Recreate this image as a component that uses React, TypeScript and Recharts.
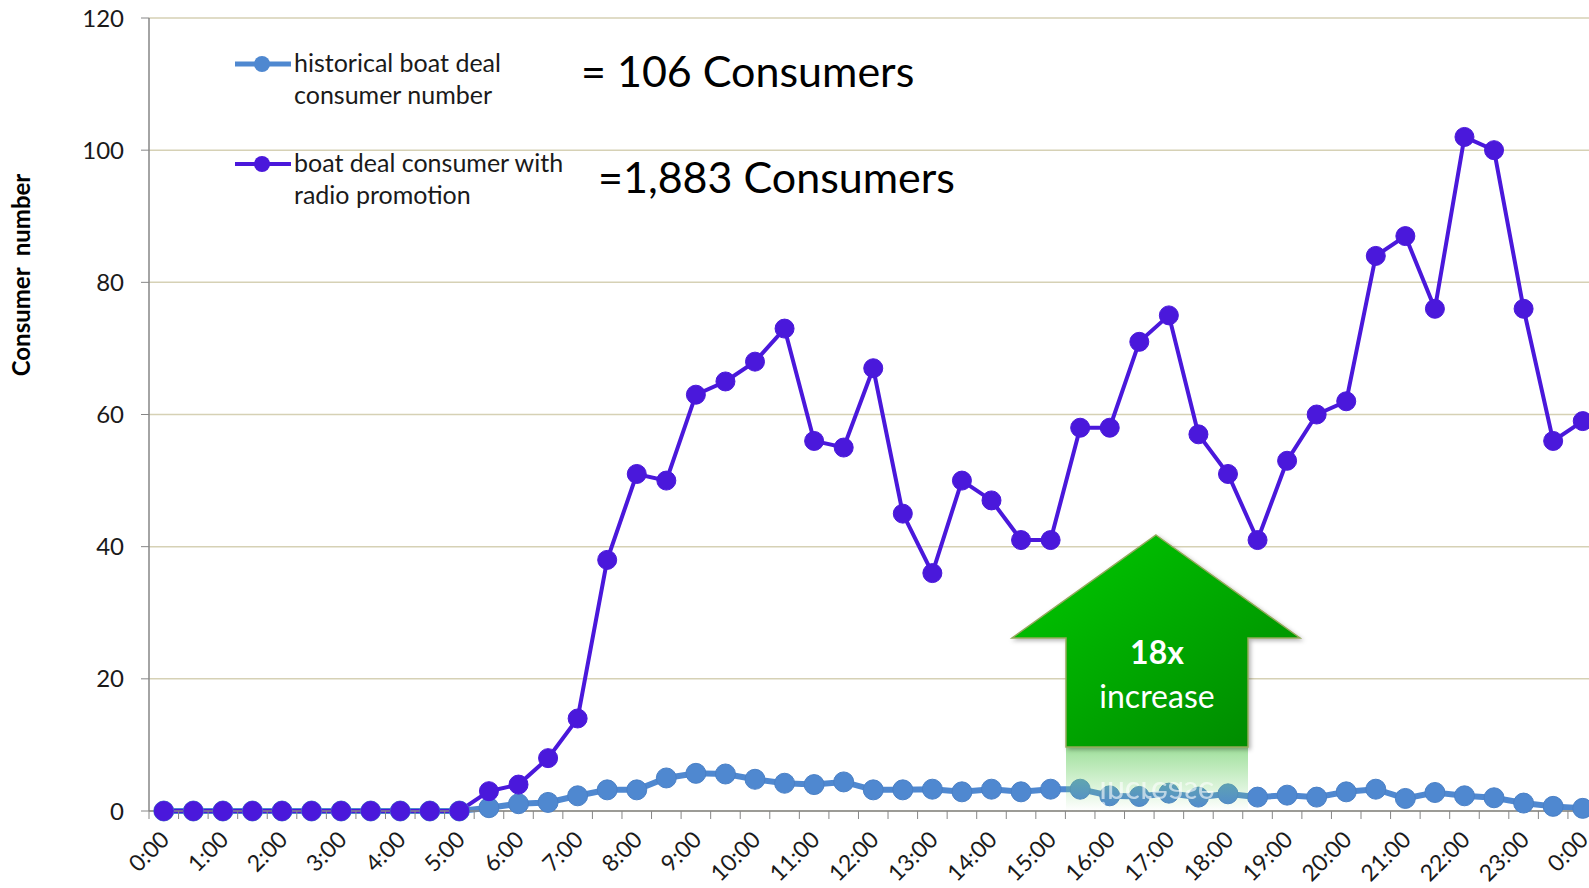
import { ComposedChart, Line, XAxis, YAxis, CartesianGrid } from 'recharts'

// half-hour slots, 0:00 to the next 0:00
const slots = [
  '0:00', '0:30', '1:00', '1:30', '2:00', '2:30', '3:00', '3:30', '4:00', '4:30',
  '5:00', '5:30', '6:00', '6:30', '7:00', '7:30', '8:00', '8:30', '9:00', '9:30',
  '10:00', '10:30', '11:00', '11:30', '12:00', '12:30', '13:00', '13:30', '14:00', '14:30',
  '15:00', '15:30', '16:00', '16:30', '17:00', '17:30', '18:00', '18:30', '19:00', '19:30',
  '20:00', '20:30', '21:00', '21:30', '22:00', '22:30', '23:00', '23:30', '0:00',
]

const historical = [
  0, 0, 0, 0, 0, 0, 0, 0, 0, 0,
  0, 0.5, 1.1, 1.3, 2.3, 3.2, 3.2, 5.0, 5.7, 5.6,
  4.8, 4.2, 4.0, 4.4, 3.2, 3.2, 3.3, 2.9, 3.3, 2.9,
  3.3, 3.3, 2.3, 2.2, 2.7, 2.1, 2.6, 2.1, 2.4, 2.1,
  2.9, 3.3, 1.9, 2.8, 2.3, 2.0, 1.2, 0.7, 0.4,
]

const withRadio = [
  0, 0, 0, 0, 0, 0, 0, 0, 0, 0,
  0, 3, 4, 8, 14, 38, 51, 50, 63, 65,
  68, 73, 56, 55, 67, 45, 36, 50, 47, 41,
  41, 58, 58, 71, 75, 57, 51, 41, 53, 60,
  62, 84, 87, 76, 102, 100, 76, 56, 59,
]

const yTicks = [0, 20, 40, 60, 80, 100, 120]

// slot index is the category key, since "0:00" shows up twice
const data = slots.map((slot, i) => ({ idx: i, slot, historical: historical[i], radio: withRadio[i] }))

const FONT = 'Lato, "Open Sans", sans-serif'
const BLUE = '#4F88D0'
const PURPLE = '#4A18DB'
const AXIS = '#868686'

const CHART_W = 1620
const CHART_H = 888
const Y_W = 149
const M_TOP = 18
const M_RIGHT = 22.5
const X_H = 77
const BAND = (CHART_W - Y_W - M_RIGHT) / slots.length

function XTick(props: any) {
  const { x, y, payload } = props
  const i = Number(payload.value)
  return (
    <g transform={`translate(${x},${y})`}>
      <line x1={-BAND / 2} y1={0} x2={-BAND / 2} y2={8} stroke={AXIS} strokeWidth={1} />
      {i % 2 === 0 && (
        <text
          x={0}
          y={0}
          transform="translate(7,30) rotate(-45)"
          textAnchor="end"
          fontSize={23}
          fontFamily={FONT}
          fill="#1a1a1a"
        >
          {slots[i]}
        </text>
      )}
    </g>
  )
}

function Arrow() {
  return (
    <g>
      <defs>
        <linearGradient id="arrowFill" x1="0" y1="0" x2="1" y2="1">
          <stop offset="0%" stopColor="#00CC00" />
          <stop offset="100%" stopColor="#008500" />
        </linearGradient>
        <linearGradient id="reflect" x1="0" y1="0" x2="0" y2="1">
          <stop offset="0%" stopColor="#7FD67A" stopOpacity={0.75} />
          <stop offset="100%" stopColor="#7FD67A" stopOpacity={0} />
        </linearGradient>
        <filter id="shadow" x="-10%" y="-10%" width="130%" height="130%">
          <feDropShadow dx="2" dy="2" stdDeviation="2" floodColor="#000" floodOpacity="0.3" />
        </filter>
      </defs>
      <rect x={1066} y={747} width={182} height={64} fill="url(#reflect)" />
      <text
        x={1157}
        y={-782}
        transform="scale(1,-1)"
        textAnchor="middle"
        fontSize={32}
        fontFamily={FONT}
        fill="#ffffff"
        opacity={0.6}
      >
        increase
      </text>
      <polygon
        points="1156,535 1300,638 1248,638 1248,747 1066,747 1066,638 1012,638"
        fill="url(#arrowFill)"
        stroke="#93A95A"
        strokeWidth={1.5}
        filter="url(#shadow)"
      />
      <text x={1157} y={664} textAnchor="middle" fontSize={32} fontWeight={700} fontFamily={FONT} fill="#ffffff">
        18x
      </text>
      <text x={1157} y={708} textAnchor="middle" fontSize={32} fontFamily={FONT} fill="#ffffff">
        increase
      </text>
    </g>
  )
}

function Overlay() {
  return (
    <svg width={1589} height={888} style={{ position: 'absolute', left: 0, top: 0, pointerEvents: 'none' }}>
      <text
        transform="translate(30,275) rotate(-90)"
        textAnchor="middle"
        fontSize={24}
        fontWeight={700}
        fontFamily={FONT}
        fill="#000"
        style={{ whiteSpace: 'pre' }}
      >
        Consumer  number
      </text>

      <line x1={235} y1={64} x2={291} y2={64} stroke={BLUE} strokeWidth={5} />
      <circle cx={262} cy={64} r={8} fill={BLUE} />
      <text x={294} y={72} fontSize={25} fontFamily={FONT} fill="#1a1a1a">historical boat deal</text>
      <text x={294} y={104} fontSize={25} fontFamily={FONT} fill="#1a1a1a">consumer number</text>

      <line x1={235} y1={164} x2={291} y2={164} stroke={PURPLE} strokeWidth={4} />
      <circle cx={262} cy={164} r={8} fill={PURPLE} />
      <text x={294} y={172} fontSize={25} fontFamily={FONT} fill="#1a1a1a">boat deal consumer with</text>
      <text x={294} y={204} fontSize={25} fontFamily={FONT} fill="#1a1a1a">radio promotion</text>

      <text x={581} y={87} fontSize={43} fontFamily={FONT} fill="#000">= 106 Consumers</text>
      <text x={598} y={193} fontSize={43} fontFamily={FONT} fill="#000">=1,883 Consumers</text>

      <Arrow />
    </svg>
  )
}

export default function App() {
  return (
    <div style={{ position: 'fixed', left: 0, top: 0, width: 1589, height: 888, overflow: 'hidden', background: '#fff' }}>
      <ComposedChart
        width={CHART_W}
        height={CHART_H}
        data={data}
        margin={{ top: M_TOP, right: M_RIGHT, bottom: 0, left: 0 }}
      >
        <CartesianGrid horizontal vertical={false} stroke="#D6D1B5" strokeWidth={1.5} />
        <XAxis
          dataKey="idx"
          type="category"
          interval={0}
          height={X_H}
          padding={{ left: BAND / 2, right: BAND / 2 }}
          tickSize={0}
          tickMargin={0}
          tick={<XTick />}
          axisLine={{ stroke: AXIS, strokeWidth: 1.5 }}
        />
        <YAxis
          width={Y_W}
          domain={[0, 120]}
          ticks={yTicks}
          tickSize={8}
          tickMargin={17}
          tick={{ fontSize: 24, fontFamily: FONT, fill: '#1a1a1a' }}
          axisLine={{ stroke: AXIS, strokeWidth: 1.5 }}
          tickLine={{ stroke: AXIS }}
        />
        <Line
          dataKey="historical"
          stroke={BLUE}
          strokeWidth={6}
          dot={{ r: 10, fill: BLUE, stroke: '#4A80C6', strokeWidth: 1 }}
          isAnimationActive={false}
        />
        <Line
          dataKey="radio"
          stroke={PURPLE}
          strokeWidth={4}
          dot={{ r: 9.5, fill: PURPLE, stroke: PURPLE, strokeWidth: 1 }}
          isAnimationActive={false}
        />
      </ComposedChart>
      <Overlay />
    </div>
  )
}
